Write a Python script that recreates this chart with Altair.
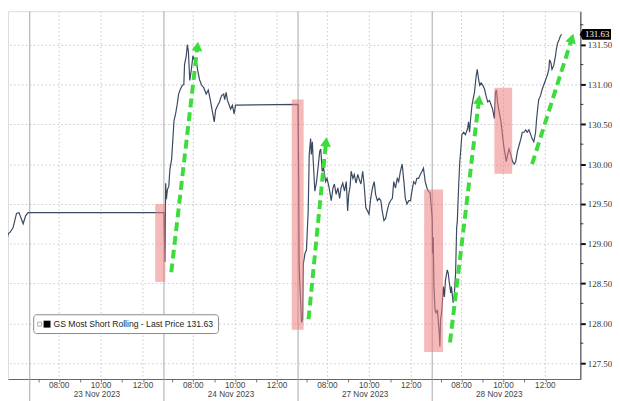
import altair as alt
import pandas as pd

# ---------------- data ----------------
DAY_ORDER = ["22 Nov 2023", "23 Nov 2023", "24 Nov 2023", "27 Nov 2023", "28 Nov 2023"]
SESSION_OPEN = 6.6      # 06:36, start of each plotted session
SESSION_HOURS = 6.4     # width of one session on the compressed axis

nov22_times = ["11:35", "11:40", "11:43", "11:49", "11:51", "11:59", "12:03", "12:12", "12:22", "12:29",
               "12:36", "12:41", "12:48", "12:55"]
nov22_prices = [128.57, 128.70, 128.75, 128.88, 129.00, 129.13, 129.14, 129.20, 129.38, 129.39,
                129.31, 129.25, 129.35, 129.39]

nov24_times = ["06:36", "06:39", "06:41", "06:43", "06:46", "06:50", "06:53",
               "06:58", "07:02", "07:05", "07:09", "07:14", "07:18", "07:23", "07:29", "07:33", "07:35",
               "07:40", "07:43", "07:46", "07:50",
               "07:54", "07:59", "08:04", "08:08", "08:13", "08:18", "08:24", "08:30", "08:37", "08:43", "08:49",
               "08:56", "09:00", "09:04", "09:10", "09:15", "09:21", "09:27", "09:30", "09:34", "09:38", "09:43",
               "09:47", "09:52", "09:57", "10:01"]
nov24_prices = [129.39, 128.77, 129.76, 129.56, 129.68, 129.72, 129.93,
                130.06, 130.34, 130.55, 130.62, 130.75, 130.88, 130.94, 130.99, 131.00, 131.25,
                131.36, 131.50, 131.42, 131.05,
                131.17, 131.36, 131.30, 131.31, 131.17, 131.06, 130.99, 130.96, 130.88, 130.93, 130.80,
                130.63, 130.53, 130.68, 130.74, 130.78, 130.86, 130.88, 130.81, 130.90, 130.80, 130.74,
                130.69, 130.74, 130.63, 130.74]

nov27_times = ["06:36", "06:38", "06:39", "06:41", "06:46", "06:49", "06:51", "06:56", "07:00", "07:05",
               "07:08", "07:12", "07:14", "07:17", "07:19", "07:24", "07:29", "07:33", "07:38", "07:41",
               "07:45", "07:49", "07:55", "07:59", "08:05", "08:11", "08:16", "08:20", "08:25", "08:30",
               "08:35", "08:39", "08:44", "08:49", "08:54", "08:58", "09:01", "09:05", "09:08", "09:13",
               "09:17", "09:22", "09:27", "09:31", "09:36", "09:41", "09:45", "09:50", "09:55", "09:59",
               "10:04", "10:09", "10:14", "10:18", "10:23", "10:28", "10:33", "10:37", "10:42", "10:47",
               "10:51", "10:56", "11:01", "11:06", "11:10", "11:15", "11:20", "11:24", "11:29", "11:34",
               "11:39", "11:43", "11:48", "11:53", "11:58", "12:02", "12:07", "12:12", "12:16", "12:21",
               "12:26", "12:31", "12:35", "12:40", "12:45", "12:49", "12:54"]
nov27_prices = [130.75, 129.72, 128.75, 128.51, 128.01, 128.05, 128.75, 128.88, 128.92, 129.41,
                130.12, 130.32, 130.12, 130.28, 130.07, 129.66, 129.78, 129.95, 130.16, 130.19,
                129.91, 129.95, 129.78, 129.82, 129.70, 129.54, 129.70, 129.75, 129.62, 129.70,
                129.57, 129.70, 129.76, 129.66, 129.78, 129.41, 129.62, 129.72, 129.91, 129.82,
                129.87, 129.76, 129.87, 129.81, 129.75, 129.91, 129.75, 129.45, 129.41, 129.37,
                129.57, 129.70, 129.78, 129.62, 129.54, 129.57, 129.54, 129.41, 129.29, 129.32,
                129.41, 129.50, 129.54, 129.57, 129.78, 129.70, 129.82, 129.78, 129.91, 130.00,
                129.78, 129.57, 129.50, 129.54, 129.54, 129.66, 129.78, 129.75, 129.82, 129.82,
                129.87, 129.91, 129.95, 129.78, 129.70, 129.66, 129.64]

nov28_times = ["06:36", "06:37", "06:39", "06:41", "06:44", "06:47", "06:51", "06:53", "06:56", "06:58",
               "07:00", "07:03", "07:08", "07:11", "07:14", "07:19", "07:22", "07:25", "07:29", "07:31",
               "07:36", "07:39", "07:43", "07:46", "07:48", "07:52", "07:55", "07:58", "08:01", "08:06",
               "08:11", "08:17", "08:20", "08:23", "08:26", "08:30", "08:33", "08:37", "08:42", "08:45",
               "08:49", "08:52", "08:56", "09:01", "09:06", "09:10", "09:15", "09:20", "09:25", "09:29",
               "09:34", "09:37", "09:40", "09:43", "09:48", "09:53", "09:57", "10:02", "10:05", "10:08",
               "10:12", "10:16", "10:21", "10:26", "10:31", "10:35", "10:40", "10:45", "10:50", "10:54",
               "10:59", "11:04", "11:08", "11:13", "11:18", "11:22", "11:27", "11:32", "11:35", "11:39",
               "11:41", "11:46", "11:51", "11:55", "12:00", "12:05", "12:10", "12:12", "12:16", "12:19",
               "12:24", "12:29", "12:31", "12:35", "12:39", "12:43", "12:47"]
nov28_prices = [129.32, 128.88, 129.08, 128.46, 128.17, 128.13, 128.17, 128.05, 127.89, 127.71,
                128.05, 128.13, 128.46, 128.33, 128.54, 128.67, 128.63, 128.51, 128.38, 128.46,
                128.26, 128.33, 128.63, 129.20, 129.29, 129.75, 130.03, 130.19, 130.37, 130.40,
                130.37, 130.44, 130.53, 130.40, 130.57, 130.74, 130.81, 130.90, 131.11, 131.19,
                131.06, 130.99, 131.02, 130.99, 130.94, 130.86, 130.78, 130.80, 130.74, 130.69,
                130.57, 130.90, 130.93, 130.78, 130.65, 130.53, 130.37, 130.19, 130.12, 130.03,
                130.12, 130.19, 130.12, 130.03, 130.00, 130.03, 130.16, 130.24, 130.32, 130.40,
                130.40, 130.43, 130.40, 130.43, 130.37, 130.32, 130.28, 130.40, 130.57, 130.74,
                130.81, 130.86, 130.94, 130.99, 131.05, 131.11, 131.19, 131.31, 131.27, 131.19,
                131.24, 131.36, 131.43, 131.52, 131.56, 131.61, 131.63]

LAST_PRICE = 131.63
LEGEND_TEXT = "GS Most Short Rolling - Last Price 131.63"
LAST_LABEL = "131.63"

LABEL_DAYS = ["23 Nov 2023", "24 Nov 2023", "27 Nov 2023", "28 Nov 2023"]
LABEL_HOURS = ["08:00", "10:00", "12:00"]
TICK_HOURS = ["07:00", "08:00", "09:00", "10:00", "11:00", "12:00"]
Y_TICKS = [127.5, 128.0, 128.5, 129.0, 129.5, 130.0, 130.5, 131.0, 131.5]
Y_MINOR = [127.75, 128.25, 128.75, 129.25, 129.75, 130.25, 130.75, 131.25, 131.75]

# highlighted boxes: (start day, start time, end day, end time, low, high)
box_start_day = ["23 Nov 2023", "24 Nov 2023", "27 Nov 2023", "28 Nov 2023"]
box_start_time = ["12:35", "12:42", "12:37", "09:34"]
box_end_day = ["24 Nov 2023", "27 Nov 2023", "28 Nov 2023", "28 Nov 2023"]
box_end_time = ["06:40", "06:52", "07:07", "10:25"]
box_low = [128.52, 127.92, 127.64, 129.88]
box_high = [129.50, 130.81, 129.68, 130.96]

# green arrows: start / end
arrow_day = ["24 Nov 2023", "27 Nov 2023", "28 Nov 2023", "28 Nov 2023"]
arrow_start_time = ["06:57", "07:06", "07:27", "11:22"]
arrow_start_price = [128.64, 128.05, 127.76, 130.00]
arrow_end_time = ["08:12", "07:56", "08:50", "13:16"]
arrow_end_price = [131.48, 130.28, 130.81, 131.58]
arrow_angle = [7, 6, 7, 17]


def to_t(day, hhmm):
    k = DAY_ORDER.index(day) - 1
    h, m = hhmm.split(":")
    return k * SESSION_HOURS + int(h) + int(m) / 60 - SESSION_OPEN


# ---------------- tables ----------------
rows = []
for day, times, prices in [("22 Nov 2023", nov22_times, nov22_prices),
                           ("24 Nov 2023", nov24_times, nov24_prices),
                           ("27 Nov 2023", nov27_times, nov27_prices),
                           ("28 Nov 2023", nov28_times, nov28_prices)]:
    for tm, p in zip(times, prices):
        rows.append({"t": to_t(day, tm), "price": p})
series = pd.DataFrame(rows)

W, H = 579, 372
X_DOMAIN = [-1.04, 26.27]
xscale = alt.Scale(domain=X_DOMAIN, nice=False, zero=False)
yscale = alt.Scale(domain=[127.30, 131.92], nice=False, zero=False)

hour_ticks = [to_t(d, h) for d in LABEL_DAYS for h in TICK_HOURS]
hour_ticks = [v for v in hour_ticks if X_DOMAIN[0] <= v <= X_DOMAIN[1]]

xaxis = alt.Axis(values=hour_ticks, labels=False, grid=False, title=None, tickSize=3,
                 tickColor="#777777", domainColor="#666666", domainWidth=1)
yaxis = alt.Axis(orient="right", values=Y_TICKS, format=".2f", title=None, grid=True,
                 gridColor="#c6c6c6", gridDash=[1.5, 2.5], domainColor="#333333",
                 tickColor="#111111", tickSize=5, tickWidth=2, labelFont="Liberation Serif",
                 labelFontSize=9, labelColor="#333333", labelPadding=2)

X = alt.X("t:Q", scale=xscale, axis=xaxis)
Y = alt.Y("price:Q", scale=yscale, axis=yaxis)

grid_df = pd.DataFrame([{"t": to_t(d, h), "label": h} for d in LABEL_DAYS for h in LABEL_HOURS])
sep_df = pd.DataFrame([{"t": to_t(d, "06:36")} for d in LABEL_DAYS])
date_df = pd.DataFrame([{"t": to_t(d, "06:36") + SESSION_HOURS / 2, "label": d} for d in LABEL_DAYS])

box_df = pd.DataFrame({
    "t": [to_t(d, t) for d, t in zip(box_start_day, box_start_time)],
    "t2": [to_t(d, t) for d, t in zip(box_end_day, box_end_time)],
    "price": box_low, "price2": box_high})

arrow_rows, head_rows = [], []
for i, d in enumerate(arrow_day):
    arrow_rows.append({"id": i, "seq": 0, "t": to_t(d, arrow_start_time[i]), "price": arrow_start_price[i]})
    arrow_rows.append({"id": i, "seq": 1, "t": to_t(d, arrow_end_time[i]), "price": arrow_end_price[i]})
    head_rows.append({"t": to_t(d, arrow_end_time[i]), "price": arrow_end_price[i], "angle": arrow_angle[i]})
arrow_df = pd.DataFrame(arrow_rows)
head_df = pd.DataFrame(head_rows)

minor_df = pd.DataFrame({"price": Y_MINOR})
last_df = pd.DataFrame({"price": [LAST_PRICE], "label": [LAST_LABEL]})
one = pd.DataFrame({"a": [0]})

# ---------------- layers ----------------
vgrid = alt.Chart(grid_df).mark_rule(color="#c6c6c6", strokeDash=[1.5, 2.5], strokeWidth=1).encode(x=X)
seps = alt.Chart(sep_df).mark_rule(color="#a6a6a6", strokeWidth=1).encode(
    x=X, y=alt.value(0), y2=alt.value(H + 24))

line = alt.Chart(series).mark_line(color="#3a4a60", strokeWidth=1.2, clip=True).encode(
    x=X, y=Y, order="t:Q")

boxes = alt.Chart(box_df).mark_rect(color="#ec8080", opacity=0.55, clip=True).encode(
    x=X, x2="t2:Q", y=Y, y2="price2:Q")

time_labels = alt.Chart(grid_df).mark_text(font="Liberation Sans", fontSize=8.3, color="#444444",
                                           baseline="middle").encode(
    x=X, y=alt.value(H + 7), text="label:N")
date_labels = alt.Chart(date_df).mark_text(font="Liberation Sans", fontSize=8.3, color="#444444",
                                           baseline="middle").encode(
    x=X, y=alt.value(H + 16), text="label:N")

legend_box = alt.Chart(one).mark_rect(fill="white", stroke="#8a8a8a", strokeWidth=1, cornerRadius=3).encode(
    x=alt.value(26), x2=alt.value(213), y=alt.value(307), y2=alt.value(326))
legend_icon1 = alt.Chart(one).mark_rect(fill="white", stroke="#999999", strokeWidth=0.8).encode(
    x=alt.value(30), x2=alt.value(34), y=alt.value(314.5), y2=alt.value(318.5))
legend_icon2 = alt.Chart(one).mark_rect(fill="black").encode(
    x=alt.value(36), x2=alt.value(43), y=alt.value(313), y2=alt.value(320))
legend_text = alt.Chart(pd.DataFrame({"label": [LEGEND_TEXT]})).mark_text(
    font="Liberation Sans", fontSize=8.7, color="#222222", align="left", baseline="middle").encode(
    x=alt.value(46), y=alt.value(316.5), text="label:N")

arrows = alt.Chart(arrow_df).mark_line(color="#3ddc3d", strokeWidth=4, strokeDash=[9, 5]).encode(
    x=X, y=Y, detail="id:N", order="seq:Q")
heads = alt.Chart(head_df).mark_point(shape="triangle-up", filled=True, size=120, color="#3ddc3d",
                                      opacity=1).encode(
    x=X, y=Y, angle=alt.Angle("angle:Q", scale=None))

minor = alt.Chart(minor_df).mark_rule(color="#333333", strokeWidth=1).encode(
    y=Y, x=alt.value(W), x2=alt.value(W + 3))

tag = alt.Chart(last_df).mark_point(
    shape="M-1.1,0 L-0.92,-0.36 L1,-0.36 L1,0.36 L-0.92,0.36 Z",
    size=900, filled=True, color="black", opacity=1).encode(x=alt.value(W + 16), y=Y)
tag_text = alt.Chart(last_df).mark_text(font="Liberation Serif", fontSize=9, color="white",
                                        baseline="middle").encode(
    x=alt.value(W + 17), y=Y, text="label:N")

chart = alt.layer(
    vgrid, seps, line, boxes, time_labels, date_labels,
    legend_box, legend_icon1, legend_icon2, legend_text,
    arrows, heads, minor, tag, tag_text
).properties(
    width=W, height=H, padding={"left": 0, "top": 0, "right": 0, "bottom": 0}
).configure_view(stroke=None).configure(background="white")

chart.save("out.html", embed_options={"renderer": "svg", "actions": False})
